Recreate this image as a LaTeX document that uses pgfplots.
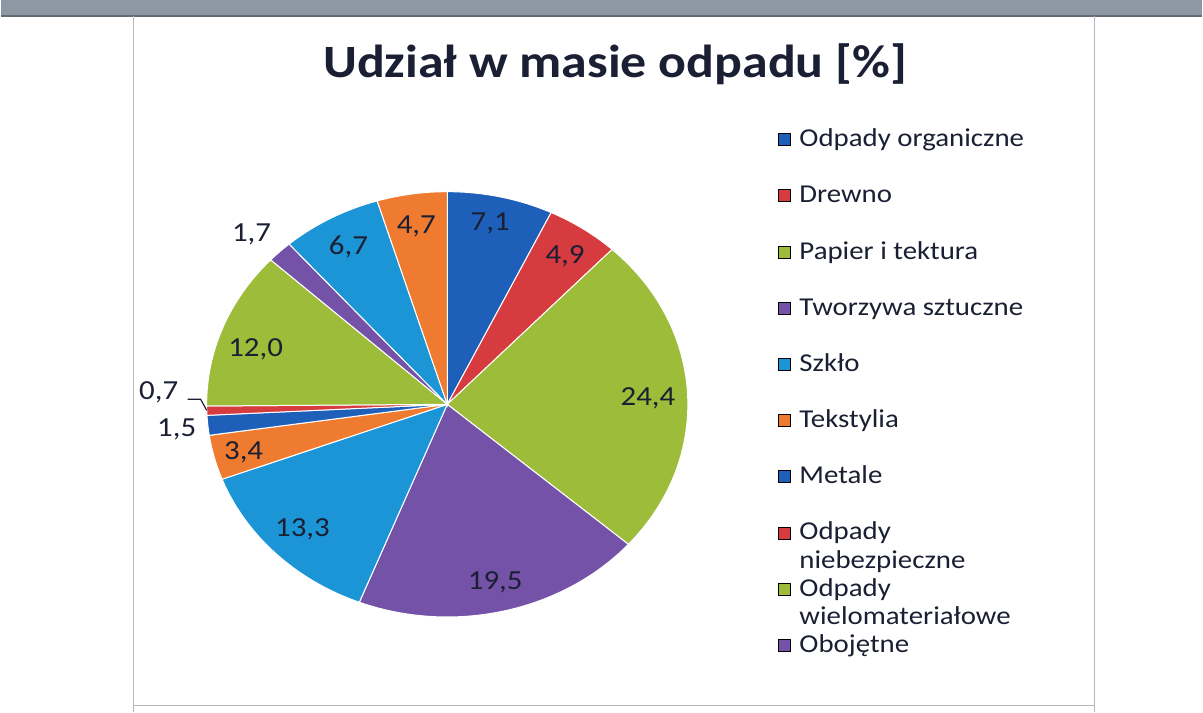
\documentclass[border=0pt]{standalone}
\usepackage{pgfplots}
\pgfplotsset{compat=1.18}
\usepackage{pgfplotstable}
\usepackage{fontspec}
\setmainfont{Carlito}[FakeStretch=1.12]

\definecolor{cBlue}{HTML}{1E5FB9}
\definecolor{cRed}{HTML}{D63B40}
\definecolor{cGreen}{HTML}{9DBC3A}
\definecolor{cPurple}{HTML}{7452A8}
\definecolor{cAqua}{HTML}{1B95D6}
\definecolor{cOrange}{HTML}{EE7B30}
\definecolor{txt}{HTML}{1B1F33}
\definecolor{band}{HTML}{8C98A3}
\definecolor{frame}{HTML}{B4B8BC}

% slices clockwise from 12 o'clock; lx/ly = label position (px, y up)
\pgfplotstableread{
value col     lx  ly
7.1   cBlue   490 489
4.9   cRed    565 456
24.4  cGreen  648 314
19.5  cPurple 495 130
13.3  cAqua   302 183
3.4   cOrange 243 260
1.5   cBlue   176 283
0.7   cRed    158 320
12.0  cGreen  255 363
1.7   cPurple 251 478
6.7   cAqua   348 466
4.7   cOrange 416 486
}\piedata

\newcommand\lblfont{\fontsize{13.8}{16}\selectfont}
\newcommand\lgd[2]{\strut#1\\\strut#2}

\begin{document}
\begin{tikzpicture}
\begin{axis}[
  x=0.5pt, y=0.5pt,
  xmin=0, xmax=1203, ymin=0, ymax=713,
  hide axis, clip=false,
  legend style={at={(axis description cs:0.6467,0.8275)}, anchor=north west,
    draw=none, fill=none, inner sep=0pt, outer sep=0pt, row sep=-1.5pt,
    font=\fontsize{12.9}{14.2}\selectfont, text=txt,
    cells={anchor=base west, align=left, inner ysep=0pt}},
  legend image code/.code={\fill[#1] (0pt,14.7pt) rectangle (6pt,20.7pt); \path (8.5pt,14.7pt);},
]
\fill[white] (axis cs:0,0) rectangle (axis cs:1203,713);
\fill[band] (axis cs:0,697) rectangle (axis cs:1203,713);
\draw[band!70!black, line width=1pt] (axis cs:0,697) -- (axis cs:1203,697);
\draw[frame, line width=0.6pt] (axis cs:133,697) -- (axis cs:133,0);
\draw[frame, line width=0.6pt] (axis cs:1095,697) -- (axis cs:1095,0);
\draw[frame, line width=0.6pt] (axis cs:133,6) -- (axis cs:1095,6);

\node[font=\fontsize{23.2}{28}\selectfont\bfseries, text=txt] at (axis cs:615,649) {Udział w masie odpadu [\%]};

\pgfmathsetmacro\cum{0}
\pgfplotsforeachungrouped \i in {0,...,11}{%
  \pgfplotstablegetelem{\i}{value}\of\piedata \let\val\pgfplotsretval
  \pgfplotstablegetelem{\i}{col}\of\piedata \let\slc\pgfplotsretval
  \pgfplotstablegetelem{\i}{lx}\of\piedata \let\lx\pgfplotsretval
  \pgfplotstablegetelem{\i}{ly}\of\piedata \let\ly\pgfplotsretval
  \pgfmathsetmacro\angA{90-\cum/99.9*360}
  \pgfmathsetmacro\cum{\cum+\val}
  \pgfmathsetmacro\angB{90-\cum/99.9*360}
  \edef\cmd{\noexpand\fill[fill=\slc, draw=white, line width=0.5pt]
    (axis cs:447,308) -- (axis cs:{447+241*cos(\angA)},{308+213*sin(\angA)})
    arc[start angle=\angA, end angle=\angB, x radius=120.5pt, y radius=106.5pt] -- cycle;
    \noexpand\node[font=\noexpand\lblfont, text=txt] at (axis cs:\lx,\ly)
    {\noexpand\pgfmathprintnumber[use comma, fixed, fixed zerofill, precision=1, assume math mode=true]{\val}};}%
  \cmd
}
\draw[txt, line width=0.6pt] (axis cs:187,313) -- (axis cs:200,313) -- (axis cs:206,302);

\addlegendimage{fill=cBlue}   \addlegendentry{\lgd{Odpady organiczne}{}}
\addlegendimage{fill=cRed}    \addlegendentry{\lgd{Drewno}{}}
\addlegendimage{fill=cGreen}  \addlegendentry{\lgd{Papier i tektura}{}}
\addlegendimage{fill=cPurple} \addlegendentry{\lgd{Tworzywa sztuczne}{}}
\addlegendimage{fill=cAqua}   \addlegendentry{\lgd{Szkło}{}}
\addlegendimage{fill=cOrange} \addlegendentry{\lgd{Tekstylia}{}}
\addlegendimage{fill=cBlue}   \addlegendentry{\lgd{Metale}{}}
\addlegendimage{fill=cRed}    \addlegendentry{\lgd{Odpady}{niebezpieczne}}
\addlegendimage{fill=cGreen}  \addlegendentry{\lgd{Odpady}{wielomateriałowe}}
\addlegendimage{fill=cPurple} \addlegendentry{\lgd{Obojętne}{}}
\end{axis}
\end{tikzpicture}
\end{document}
